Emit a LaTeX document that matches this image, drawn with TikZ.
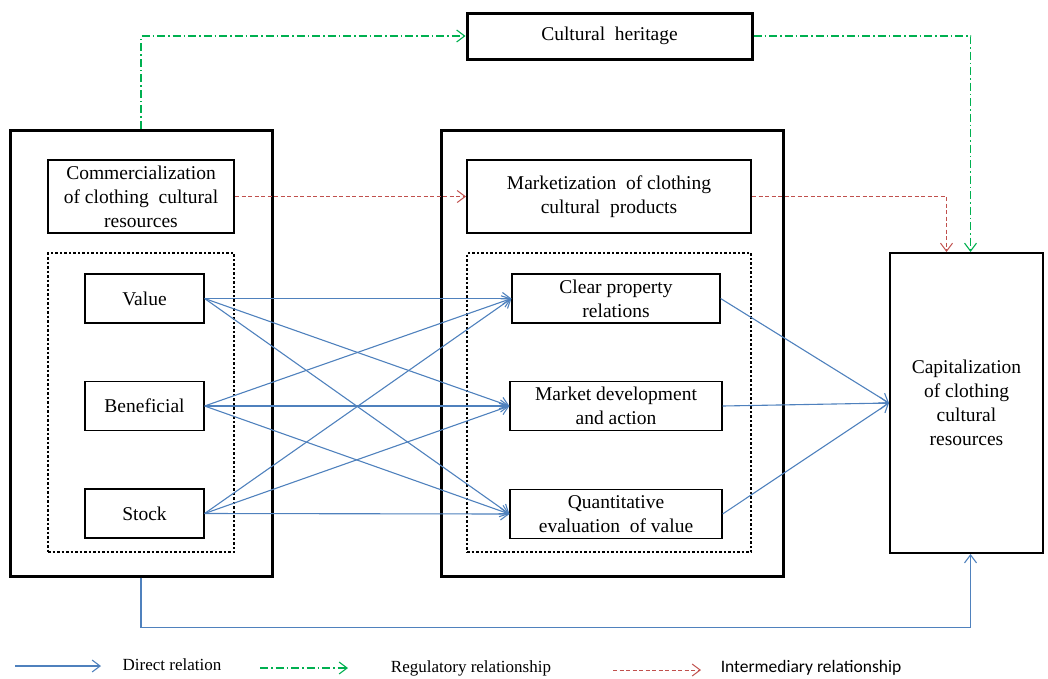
\documentclass[tikz,border=0pt]{standalone}
\usepackage{fontspec}
\setmainfont{Liberation Serif}
\newfontfamily\tnr{Liberation Serif}
\newfontfamily\legsans{Carlito}
\usetikzlibrary{arrows.meta,positioning,calc}
\definecolor{dblue}{HTML}{4F81BD}
\definecolor{rgreen}{HTML}{00B050}
\definecolor{ired}{HTML}{C0504D}
\begin{document}
\begin{tikzpicture}[x=1pt,y=-1pt,
  every node/.style={font=\tnr\fontsize{19.5}{24}\selectfont},
  bigbox/.style={draw,line width=3pt,minimum width=#1,inner sep=0pt},
  midbox/.style={draw,line width=2pt,align=center,inner sep=0pt},
  smallbox/.style={draw,line width=1.2pt,align=center,inner sep=0pt,minimum height=49pt},
  dotbox/.style={draw,line width=2.5pt,dash pattern=on 2.5pt off 2pt,inner sep=0pt},
  tip/.style={-{Straight Barb[length=8pt,width=12pt]}},
  direct/.style={tip,draw=dblue,line width=1.1pt},
  regul/.style={tip,draw=rgreen,line width=1.1pt,dash pattern=on 8pt off 3pt on 1.5pt off 3pt},
  interm/.style={tip,draw=ired,line width=1pt,dash pattern=on 4pt off 2.5pt},
  legtext/.style={font=\tnr\fontsize{17}{20}\selectfont}
]
\useasboundingbox (0,0) rectangle (1048,678);

% big containers
\node[bigbox=262pt,minimum height=446pt] (lbig) at (141,353) {};
\node[bigbox=342pt,minimum height=446pt] (mbig) at (612,353) {};
\node[dotbox,minimum width=186pt,minimum height=299pt] (ldot) at (141,402.5) {};
\node[dotbox,minimum width=284pt,minimum height=299pt] (mdot) at (609,402.5) {};

% top box
\node[draw,line width=3pt,minimum width=285pt,minimum height=46pt,inner sep=0pt] (ch) at (609.5,36) {\raisebox{-2pt}{Cultural\ \ heritage}};

% left column
\node[midbox,minimum width=186pt,minimum height=73pt] (comm) at (141,196.5) {Commercialization\\of clothing\ \ cultural\\resources};
\node[smallbox,minimum width=119pt] (val) at (144.5,298.5) {Value};
\node[smallbox,minimum width=119pt] (ben) at (144.5,406) {Beneficial};
\node[smallbox,minimum width=119pt] (sto) at (144.5,513.5) {Stock};

% middle column
\node[midbox,minimum width=284pt,minimum height=73pt] (mkt) at (609,196.5) {Marketization\ \ of clothing\\cultural\ \ products};
\node[smallbox,minimum width=208pt] (clr) at (616,298.5) {Clear property\\relations};
\node[smallbox,minimum width=212pt] (mdv) at (616,406) {Market development\\and action};
\node[smallbox,minimum width=212pt] (qnt) at (616,514) {Quantitative\\evaluation\ \ of value};

% right box
\node[midbox,minimum width=153pt,minimum height=300pt] (cap) at (966.5,403) {Capitalization\\of clothing\\cultural\\resources};

% regulatory (green)
\draw[regul] (lbig.north) |- (ch.west);
\draw[regul] (ch.east) -| ([xshift=4pt]cap.north);

% intermediary (red)
\draw[interm] (comm.east) -- (mkt.west);
\draw[interm] (mkt.east) -| ([xshift=-20pt]cap.north);

% direct (blue)
\foreach \s in {val,ben,sto}{
  \foreach \t in {clr,mdv,qnt}{
    \draw[direct] (\s.east) -- (\t.west);
  }
}
\foreach \s in {clr,mdv,qnt}{
  \draw[direct] (\s.east) -- (cap.west);
}
\draw[direct] (lbig.south) -- ++(0,50) -| ([xshift=4pt]cap.south);

% legend
\coordinate (l1a) at (15,666);  \coordinate (l1b) at (101,666);
\coordinate (l2a) at (260,668); \coordinate (l2b) at (348,668);
\coordinate (l3a) at (613,670); \coordinate (l3b) at (701,670);
\draw[direct] (l1a) -- (l1b);
\draw[regul] (l2a) -- (l2b);
\draw[interm] (l3a) -- (l3b);
\node[legtext] (t1) at (172,665) {Direct relation};
\node[legtext] (t2) at (471,668) {Regulatory relationship};
\node[font=\legsans\fontsize{17.5}{20}\selectfont] (t3) at (811,668) {Intermediary relationship};
\end{tikzpicture}
\end{document}
